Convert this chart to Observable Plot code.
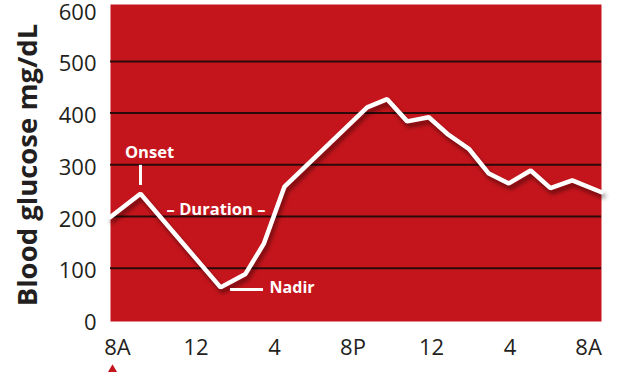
<!DOCTYPE html>
<html><head><meta charset="utf-8">
<script src="https://cdn.jsdelivr.net/npm/d3@7"></script>
<script src="https://cdn.jsdelivr.net/npm/@observablehq/plot@0.6"></script>
<style>body{margin:0;background:#fff;}</style>
</head><body><div id="chart"></div>
<script>
// Hours after 8 AM and blood glucose (mg/dL)
const hours   = [-0.36, 1.17, 5.25, 6.52, 7.45, 8.51, 12.72, 13.74, 14.76, 15.86, 16.8, 17.9, 18.92, 19.94, 21.05, 22.06, 23.17, 24.66];
const glucose = [199,   244,  63,   89,   147,  258,  411,   427,   384,   392,   360,  331,  283,   264,   289,   255,   270,   247];

const xTickHours  = [0, 4, 8, 12, 16, 20, 24];
const xTickLabels = ["8A", "12", "4", "8P", "12", "4", "8A"];
const yTicks      = [0, 100, 200, 300, 400, 500, 600];
const gridValues  = [100, 200, 300, 400, 500];

const noteLabels = ["Onset", "– Duration –"];
const noteHours  = [1.63, 5.02];
const noteValues = [324, 213];
const nadirLabel = ["Nadir"];
const nadirHour  = 7.75;
const nadirValue = 62;
const onsetTickHour = [1.17];
const onsetTickRange = [260, 299];
const nadirLineValue = [59];
const nadirLineRange = [5.76, 7.44];
const yTitle = "Blood glucose mg/dL";

const RED = "#c5151c";
const series = hours.map((h, i) => ({h, v: glucose[i]}));
const notes = noteLabels.map((t, i) => ({t, h: noteHours[i], v: noteValues[i]}));

const chart = Plot.plot({
  width: 620, height: 372,
  marginLeft: 110, marginRight: 19, marginTop: 4, marginBottom: 51,
  style: {fontFamily: "'Open Sans', sans-serif", fontSize: "22px", color: "#231f20", background: "#fff", overflow: "visible"},
  x: {domain: [-0.357, 24.66]},
  y: {domain: [-3, 610]},
  marks: [
    Plot.frame({fill: RED, stroke: null}),
    Plot.ruleY(gridValues, {stroke: "#2b0a0b", strokeWidth: 2}),
    Plot.line(series, {x: "h", y: "v", stroke: "#fff", strokeWidth: 4.5, strokeLinejoin: "miter"}),
    Plot.ruleX(onsetTickHour, {y1: onsetTickRange[0], y2: onsetTickRange[1], stroke: "#fff", strokeWidth: 3}),
    Plot.ruleY(nadirLineValue, {x1: nadirLineRange[0], x2: nadirLineRange[1], stroke: "#fff", strokeWidth: 3}),
    Plot.text(notes, {x: "h", y: "v", text: "t", textAnchor: "middle", fill: "#fff", fontWeight: "bold", fontSize: 16.5}),
    Plot.text(nadirLabel, {x: () => nadirHour, y: () => nadirValue, text: d => d, textAnchor: "start", fill: "#fff", fontWeight: "bold", fontSize: 16}),
    Plot.axisX(xTickHours, {tickSize: 0, tickPadding: 18, tickFormat: (d, i) => xTickLabels[i], fontSize: 22, label: null}),
    Plot.axisY(yTicks, {tickSize: 0, tickPadding: 14, dy: 3, fontSize: 22, label: null}),
    Plot.text([yTitle], {frameAnchor: "left", rotate: -90, dx: -82, dy: 2, textAnchor: "middle", fontSize: 27.5, fontWeight: "bold", fill: "#231f20"}),
    Plot.dot([0], {x: d => d, frameAnchor: "bottom", dy: 52, dx: -5, symbol: "triangle", r: 6, fill: RED, stroke: null})
  ]
});
document.getElementById("chart").appendChild(chart);
d3.select(chart).selectAll('g[aria-label="line"]').style("filter", "drop-shadow(2px 4px 2px rgba(0,0,0,0.45))");
</script>
</body></html>
